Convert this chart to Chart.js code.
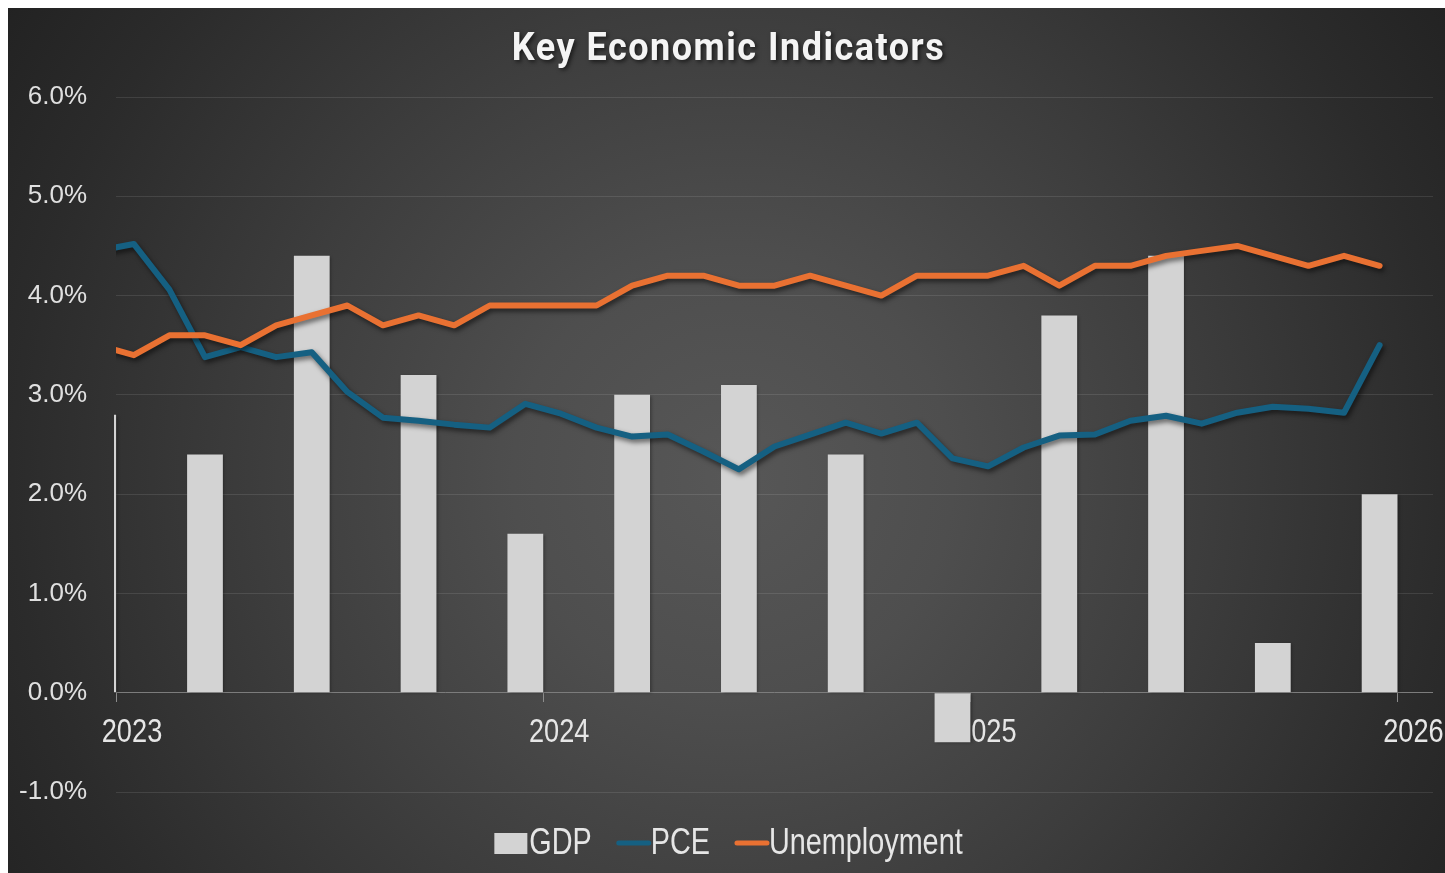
<!DOCTYPE html>
<html>
<head>
<meta charset="utf-8">
<title>Key Economic Indicators</title>
<script src="https://cdn.jsdelivr.net/npm/chart.js@4.4.1/dist/chart.umd.min.js"></script>
<style>
  html, body { margin: 0; padding: 0; background: #fff; }
  #painel {
    position: absolute; left: 8px; top: 8px; width: 1437px; height: 865px;
    background: radial-gradient(circle at 725px 470px, #575757 0px, #4e4e4e 220px, #3d3d3d 470px, #2b2b2b 720px, #1f1f1f 920px);
  }
  canvas { display: block; }
</style>
</head>
<body>
<div id="painel"><canvas id="grafico" width="1437" height="865"></canvas></div>
<script>
// ===== DATA =====
const months = ['2022-12',
  '2023-01','2023-02','2023-03','2023-04','2023-05','2023-06','2023-07','2023-08','2023-09','2023-10','2023-11','2023-12',
  '2024-01','2024-02','2024-03','2024-04','2024-05','2024-06','2024-07','2024-08','2024-09','2024-10','2024-11','2024-12',
  '2025-01','2025-02','2025-03','2025-04','2025-05','2025-06','2025-07','2025-08','2025-09','2025-10','2025-11','2025-12'];

const pce = [4.45,
  4.52, 4.06, 3.38, 3.48, 3.38, 3.43, 3.03, 2.77, 2.74, 2.70, 2.67, 2.91,
  2.81, 2.67, 2.58, 2.60, 2.43, 2.25, 2.48, 2.60, 2.72, 2.61, 2.72, 2.36,
  2.28, 2.47, 2.59, 2.60, 2.74, 2.79, 2.71, 2.82, 2.88, 2.86, 2.82, 3.50];

const unemployment = [3.5,
  3.4, 3.6, 3.6, 3.5, 3.7, 3.8, 3.9, 3.7, 3.8, 3.7, 3.9, 3.9,
  3.9, 3.9, 4.1, 4.2, 4.2, 4.1, 4.1, 4.2, 4.1, 4.0, 4.2, 4.2,
  4.2, 4.3, 4.1, 4.3, 4.3, 4.4, 4.45, 4.5, 4.4, 4.3, 4.4, 4.3];

const quarters = ['2022 Q4',
  '2023 Q1','2023 Q2','2023 Q3','2023 Q4',
  '2024 Q1','2024 Q2','2024 Q3','2024 Q4',
  '2025 Q1','2025 Q2','2025 Q3','2025 Q4'];
const gdp = [2.8, 2.4, 4.4, 3.2, 1.6, 3.0, 3.1, 2.4, -0.5, 3.8, 4.4, 0.5, 2.0];

const yearTicks = ['2023', '2024', '2025', '2026'];

// ===== HELPERS =====
// months counted from Jan 2023, plotted mid-month
function monthPos(s) {
  const [a, m] = s.split('-').map(Number);
  return (a - 2023) * 12 + (m - 1) + 0.5;
}
// a quarter sits on its last month
function quarterPos(s) {
  const a = parseInt(s), q = parseInt(s.split('Q')[1]);
  return (a - 2023) * 12 + q * 3 - 1 + 0.5;
}

// narrow text: Liberation Sans squeezed sideways
const SQUEEZE = 0.8;
function narrowText(ctx, txt, x, y) {
  ctx.save();
  ctx.translate(x, y);
  ctx.scale(SQUEEZE, 1);
  ctx.fillText(txt, 0, 0);
  ctx.restore();
}

// ===== PLUGIN: shadows, year labels, title, legend =====
const decor = {
  id: 'decor',
  beforeDatasetsDraw(chart) {
    // year labels sit under the bars, as in the original
    const ctx = chart.ctx;
    const sx = chart.scales.x, sy = chart.scales.y;
    const y0 = sy.getPixelForValue(0);
    ctx.save();
    ctx.font = "34px 'Liberation Sans', Arial, sans-serif";
    ctx.textAlign = 'center';
    ctx.textBaseline = 'alphabetic';
    ctx.fillStyle = '#e6e6e6';
    sx.ticks.forEach(t => {
      narrowText(ctx, yearTicks[t.value / 12], sx.getPixelForValue(t.value) + 16, y0 + 49);
    });
    ctx.restore();
  },
  beforeDatasetDraw(chart, args) {
    const ctx = chart.ctx;
    const ehBarra = chart.data.datasets[args.index].type === 'bar';
    ctx.save();
    ctx.shadowColor = ehBarra ? 'rgba(0,0,0,0.35)' : 'rgba(0,0,0,0.55)';
    ctx.shadowBlur = ehBarra ? 3 : 5;
    ctx.shadowOffsetX = ehBarra ? 1.5 : 2;
    ctx.shadowOffsetY = ehBarra ? 1 : 3;
  },
  afterDatasetDraw(chart) {
    chart.ctx.restore();
  },
  afterDraw(chart) {
    const ctx = chart.ctx;
    // title
    ctx.save();
    ctx.font = "bold 36px Roboto, 'Open Sans', sans-serif";
    ctx.letterSpacing = '1.5px';
    ctx.textAlign = 'center';
    ctx.textBaseline = 'alphabetic';
    ctx.fillStyle = '#f4f4f4';
    ctx.shadowColor = 'rgba(0,0,0,0.6)';
    ctx.shadowBlur = 4;
    ctx.shadowOffsetX = 2;
    ctx.shadowOffsetY = 2;
    ctx.translate(chart.width / 2 + 2, 52);
    ctx.scale(1, 1.1);
    ctx.fillText('Key Economic Indicators', 0, 0);
    ctx.restore();

    // legend
    ctx.save();
    ctx.font = "36px 'Liberation Sans', Arial, sans-serif";
    ctx.textBaseline = 'alphabetic';
    ctx.textAlign = 'left';
    const itens = chart.data.datasets.map(ds => ({
      ds, w: 33 + 2 + ctx.measureText(ds.label).width * SQUEEZE
    }));
    const gap = 24;
    const total = itens.reduce((s, it) => s + it.w, 0) + gap * (itens.length - 1);
    let x = chart.width / 2 + 2 - total / 2;
    const cy = 835, base = 846;
    itens.forEach(it => {
      if (it.ds.type === 'bar') {
        ctx.fillStyle = it.ds.backgroundColor;
        ctx.fillRect(x, cy - 10, 33, 21);
      } else {
        ctx.strokeStyle = it.ds.borderColor;
        ctx.lineWidth = 5;
        ctx.lineCap = 'round';
        ctx.beginPath();
        ctx.moveTo(x + 3, cy);
        ctx.lineTo(x + 33, cy);
        ctx.stroke();
      }
      ctx.fillStyle = '#e6e6e6';
      narrowText(ctx, it.ds.label, x + 35, base);
      x += it.w + gap;
    });
    ctx.restore();
  }
};

// ===== CHART =====
const ctx = document.getElementById('grafico').getContext('2d');

new Chart(ctx, {
  type: 'line',
  data: {
    datasets: [
      {
        type: 'bar',
        label: 'GDP',
        data: quarters.map((q, i) => ({ x: quarterPos(q), y: gdp[i] })),
        backgroundColor: '#d3d3d3',
        borderWidth: 0,
        barPercentage: 1,
        categoryPercentage: 0.335,
        clip: { left: 2, top: false, right: false, bottom: false },
        order: 3,
      },
      {
        label: 'PCE',
        data: months.map((m, i) => ({ x: monthPos(m), y: pce[i] })),
        borderColor: '#156082',
        borderWidth: 6,
        pointRadius: 0,
        tension: 0,
        borderJoinStyle: 'round',
        borderCapStyle: 'round',
        clip: { left: 0, top: false, right: false, bottom: false },
        order: 2,
      },
      {
        label: 'Unemployment',
        data: months.map((m, i) => ({ x: monthPos(m), y: unemployment[i] })),
        borderColor: '#e97132',
        borderWidth: 6,
        pointRadius: 0,
        tension: 0,
        borderJoinStyle: 'round',
        borderCapStyle: 'round',
        clip: { left: 0, top: false, right: false, bottom: false },
        order: 1,
      }
    ]
  },
  options: {
    responsive: false,
    animation: false,
    layout: { padding: { top: 89, right: 12, bottom: 81, left: 0 } },
    plugins: {
      legend: { display: false },
      title: { display: false },
      tooltip: { enabled: false }
    },
    scales: {
      x: {
        type: 'linear',
        position: { y: 0 },
        min: 0,
        max: 37,
        offset: false,
        border: { display: false },
        grid: { offset: false, drawOnChartArea: false, drawTicks: true, tickLength: 9, color: '#8c8c8c' },
        ticks: {
          display: false,
          stepSize: 12,
          includeBounds: false,
          autoSkip: false
        }
      },
      y: {
        min: -1,
        max: 6,
        afterFit: s => { s.width = 108; },
        border: { display: false },
        grid: {
          drawTicks: false,
          color: c => c.tick && c.tick.value === 0 ? '#7c7c7c' : 'rgba(255,255,255,0.1)'
        },
        ticks: {
          stepSize: 1,
          padding: 29,
          color: '#e0e0e0',
          font: { family: "'Liberation Sans', Arial, sans-serif", size: 26 },
          callback: v => v.toFixed(1) + '%'
        }
      }
    }
  },
  plugins: [decor]
});
</script>
</body>
</html>
